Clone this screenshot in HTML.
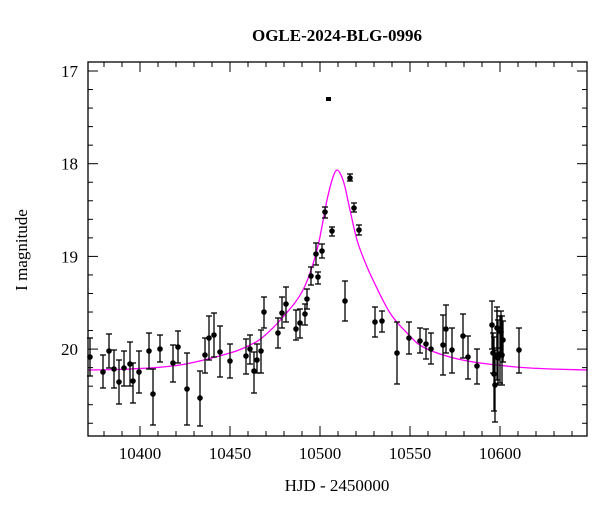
<!DOCTYPE html>
<html><head><meta charset="utf-8"><style>
html,body{margin:0;padding:0;background:#fff;}
svg text{font-family:"Liberation Serif",serif;fill:#000;}
</style></head><body>
<svg id="s" width="600" height="512" xmlns="http://www.w3.org/2000/svg">
<text x="337" y="41" font-size="17" text-anchor="middle" font-weight="bold">OGLE-2024-BLG-0996</text>
<text x="337" y="491" font-size="17" text-anchor="middle">HJD - 2450000</text>
<text transform="translate(27,250) rotate(-90)" font-size="17" text-anchor="middle">I magnitude</text>
<g id="ax"></g>
<path id="curve" fill="none" stroke="#ff00ff" stroke-width="1.3"/>
<g id="pts"></g>
<rect x="88" y="62" width="499" height="374" fill="none" stroke="#000" stroke-width="1.3"/>
</svg>
<script>
var ns="http://www.w3.org/2000/svg",ax=document.getElementById('ax'),pg=document.getElementById('pts');
function el(t,a,p){var e=document.createElementNS(ns,t);for(var k in a)e.setAttribute(k,a[k]);(p||ax).appendChild(e);return e;}
function ln(x1,y1,x2,y2,p,w){el('line',{x1:x1,y1:y1,x2:x2,y2:y2,stroke:'#000','stroke-width':w||1},p);}
for(var t=10370;t<=10650;t+=10){var x=140+(t-10400)*1.8;if(x<88||x>587)continue;var maj=(t%50==0);var L=maj?10:5;
ln(x,436,x,436-L);ln(x,62,x,62+L);
if(maj&&t<=10600){var tx=el('text',{x:x,y:459,'font-size':17,'text-anchor':'middle'});tx.textContent=t;}}
for(var i=0;i<=20;i++){var m=16.8+i*0.2;var y=71+(m-17)*92.7;if(y<62||y>436)continue;var maj=Math.abs(m-Math.round(m))<0.01;var L=maj?10:5;
ln(88,y,88+L,y);ln(587,y,587-L,y);
if(maj){var tx=el('text',{x:78,y:y+6,'font-size':17,'text-anchor':'end'});tx.textContent=Math.round(m);}}
var c=[[88,370],[130,369],[180,365],[230,353],[250,345],[263,337],[283,317],[303,290],[317,250],[327,200],[333,177],[337,170],[341,175],[345,187],[350,210],[357,240],[365,262],[373,280],[390,313],[407,333],[423,347],[450,357],[480,363],[530,368],[587,370]];
var d='M'+c[0][0]+','+c[0][1];
for(var i=0;i<c.length-1;i++){var p0=c[Math.max(i-1,0)],p1=c[i],p2=c[i+1],p3=c[Math.min(i+2,c.length-1)];
d+=' C'+(p1[0]+(p2[0]-p0[0])/6)+','+(p1[1]+(p2[1]-p0[1])/6)+' '+(p2[0]-(p3[0]-p1[0])/6)+','+(p2[1]-(p3[1]-p1[1])/6)+' '+p2[0]+','+p2[1];}
document.getElementById('curve').setAttribute('d',d);
var P=[[90,357,338,376],[103,372,355,388],[109,351,334,368],[114,369,350,388],[119,382,360,404],[124,368,351,386],[130,364,342,386],[133,381,363,403],[139,372,351,393],[149,351,333,369],[153,394,369,425],[160,349,335,362],[173,363,345,382],[178,347,331,363],[187,389,353,425],[200,398,371,426],[205,355,338,373],[209,338,316,360],[214,335,313,357],[220,352,326,377],[230,361,344,378],[246,356,339,374],[250,349,335,364],[254,371,352,393],[257,360,344,373],[261,351,330,373],[264,312,297,328],[278,333,318,348],
[282,313,297,328],[286,304,287,322],[296,329,310,340],[300,323,309,338],[305,314,304,325],[307,299,289,309],[311,276,267,285],[316,254,243,265],[318,277,272,284],[322,251,244,258],[325,212,207,218],[332,231,227,236],[345,301,281,321],[350,178,174,181],[354,208,203,212],[359,230,225,235],[375,322,307,337],[382,321,311,332],
[397,353,322,384],[409,338,322,354],[420,341,328,353],[426,344,329,359],[431,349,333,364],[443,345,315,375],[446,329,305,353],[452,350,328,373],[463,336,314,358],[468,357,336,379],[477,366,349,384],[492,325,301,349],[493,353,333,373],[494,374,337,411],[495,385,350,422],[497,328,307,348],[497,355,311,380],[498,358,320,385],[500,354,316,383],[501,332,311,357],[502,355,316,385],[503,340,321,362],[519,350,328,373]];
P.forEach(function(p){ln(p[0],p[2],p[0],p[3],pg,1.3);ln(p[0]-3,p[2],p[0]+3,p[2],pg,1.3);ln(p[0]-3,p[3],p[0]+3,p[3],pg,1.3);
el('circle',{cx:p[0],cy:p[1],r:2.8,fill:'#000'},pg);});
el('rect',{x:326,y:97,width:5,height:4,fill:'#000'},pg);
</script>
</body></html>
